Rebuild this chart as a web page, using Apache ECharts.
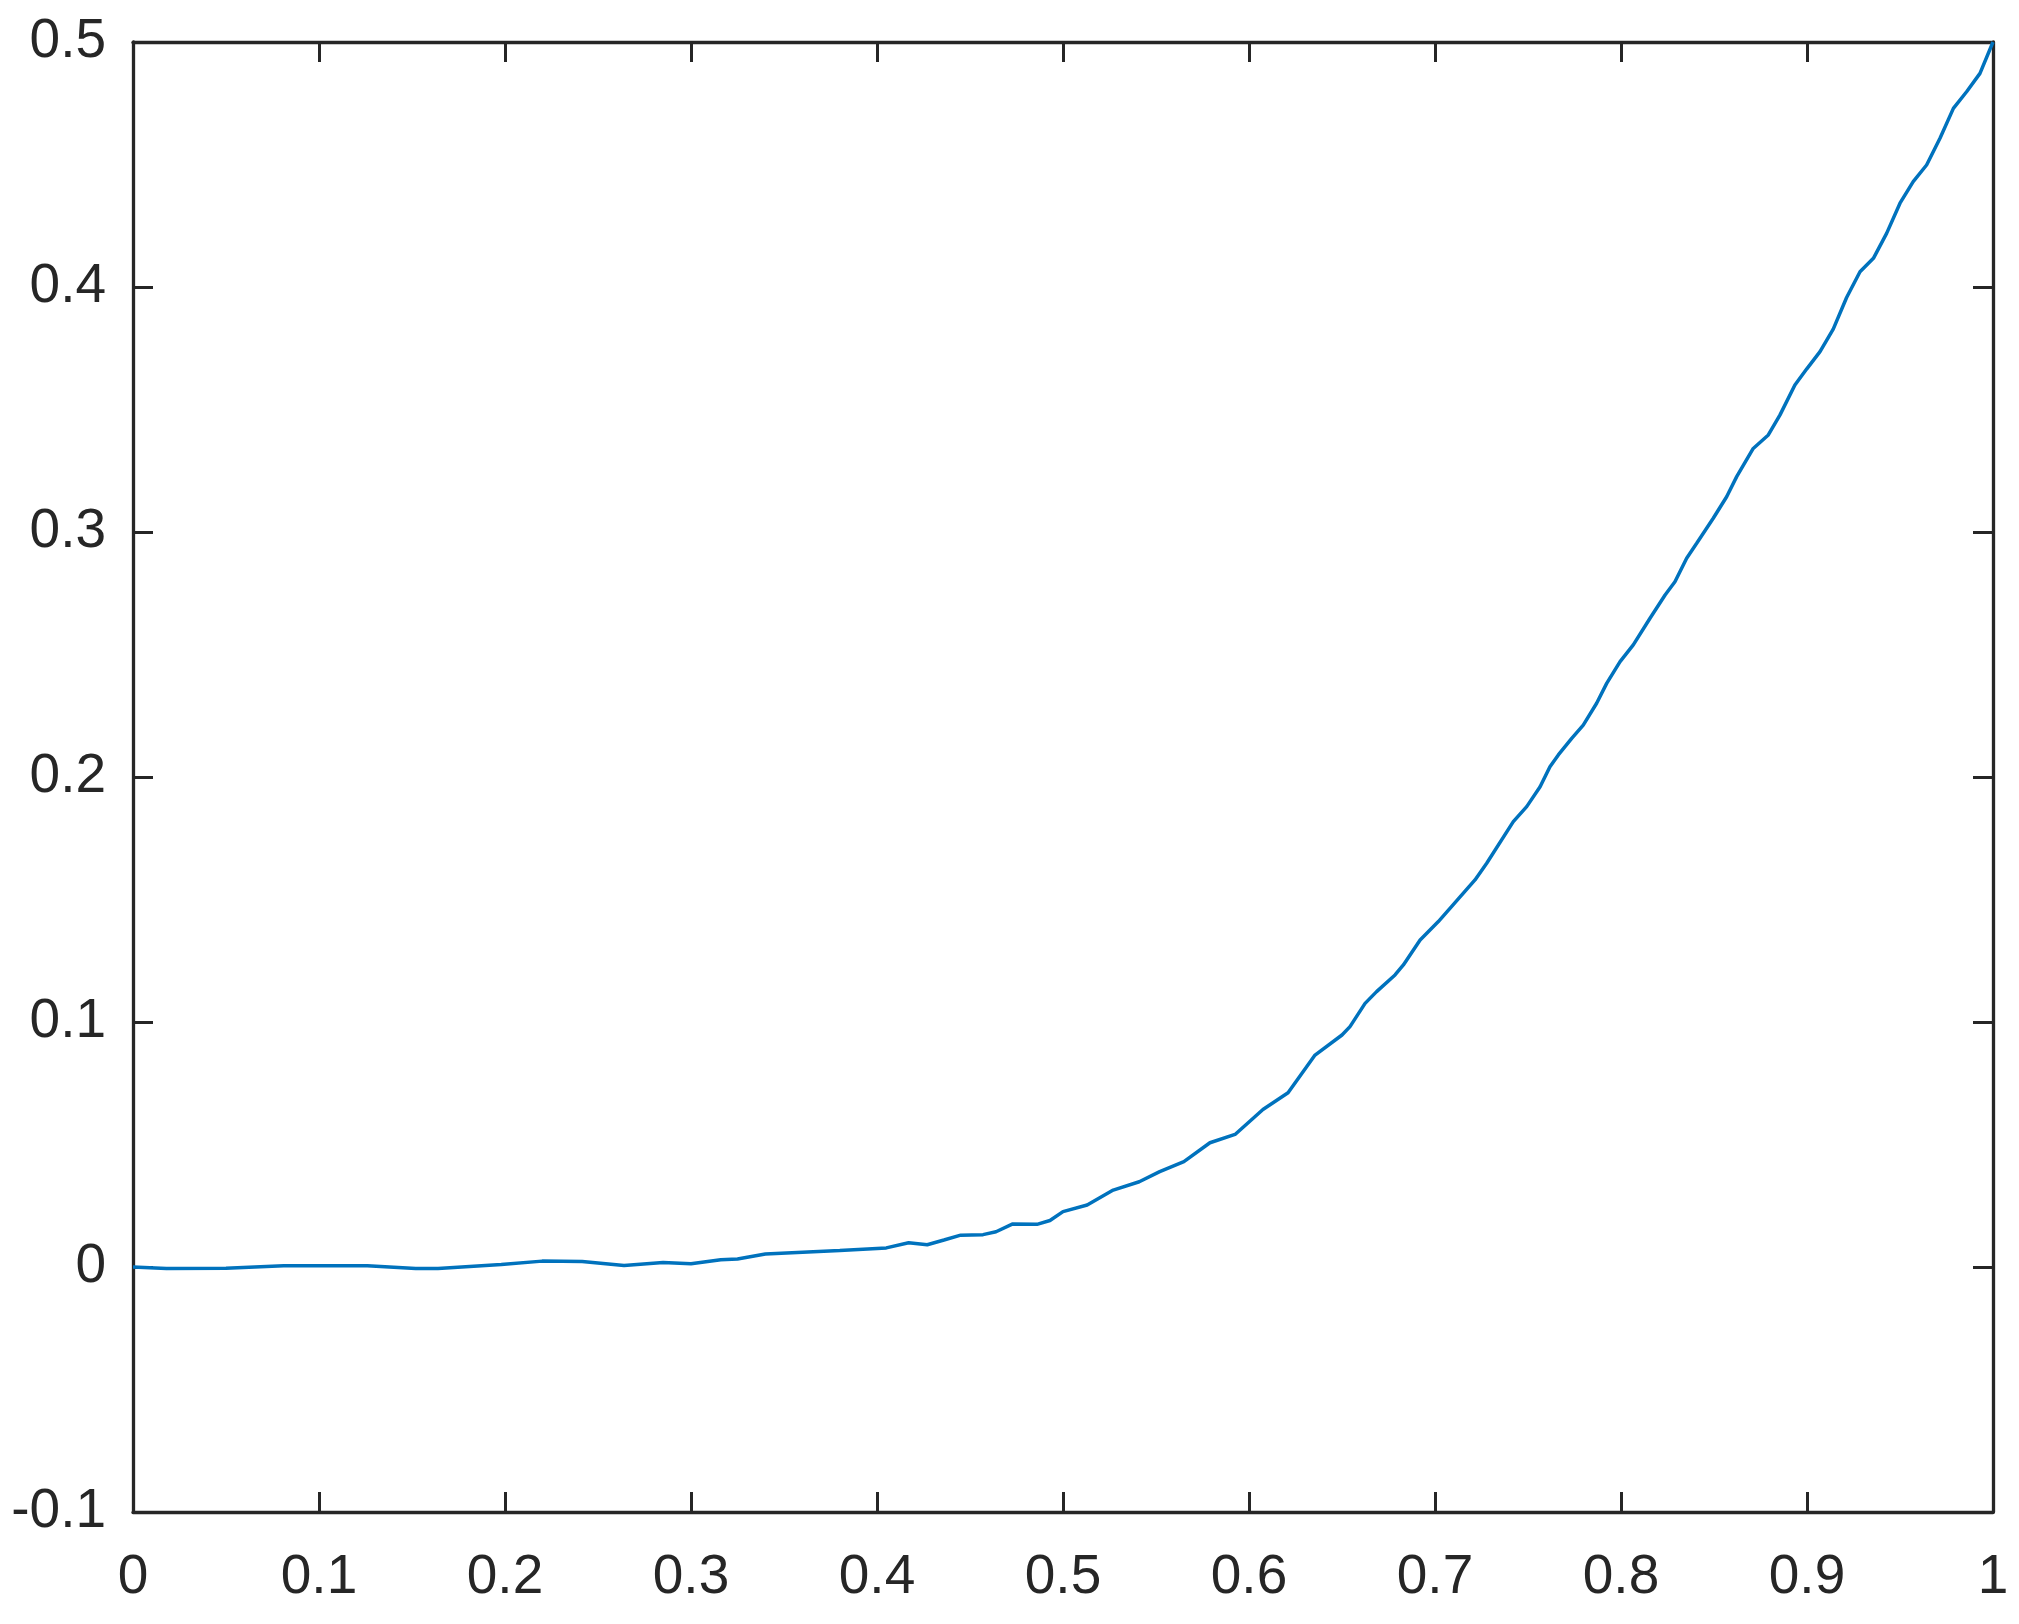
<!DOCTYPE html>
<html>
<head>
<meta charset="utf-8">
<script src="https://cdn.jsdelivr.net/npm/echarts@6/dist/echarts.min.js"></script>
<style>
  html, body { margin: 0; padding: 0; background: #fff; }
  #chart { width: 2019px; height: 1624px; }
</style>
</head>
<body>
<div id="chart"></div>
<script>
// curve
const xValues = [
  0, 0.018, 0.05, 0.081, 0.126, 0.152, 0.164, 0.198, 0.22, 0.2415,
  0.264, 0.285, 0.30, 0.316, 0.325, 0.34, 0.38, 0.405, 0.417, 0.427,
  0.436, 0.445, 0.457, 0.464, 0.473, 0.486, 0.493, 0.500, 0.513, 0.527,
  0.541, 0.552, 0.565, 0.579, 0.5925, 0.6075, 0.621, 0.6355, 0.650, 0.6543,
  0.6624, 0.6686, 0.6785, 0.683, 0.692, 0.7018, 0.7143, 0.7215, 0.7278, 0.7421,
  0.7493, 0.7565, 0.7618, 0.7663, 0.7735, 0.7797, 0.7869, 0.7923, 0.7995, 0.8066,
  0.8156, 0.8237, 0.8290, 0.8353, 0.8407, 0.8496, 0.8568, 0.8622, 0.8711, 0.8792,
  0.8855, 0.8935, 0.8998, 0.9070, 0.9141, 0.9213, 0.9285, 0.9357, 0.9428, 0.9500,
  0.9571, 0.9643, 0.9715, 0.9787, 0.9858, 0.9930, 1.0
]
const yValues = [
  0, -0.0006, -0.0005, 0.0005, 0.0005, -0.0006, -0.0006, 0.001, 0.0024, 0.0022,
  0.0006, 0.0018, 0.0013, 0.003, 0.0033, 0.0053, 0.0067, 0.0078, 0.0099, 0.0091,
  0.011, 0.013, 0.0132, 0.0144, 0.0176, 0.0174, 0.019, 0.0226, 0.0253, 0.0314,
  0.0348, 0.0389, 0.043, 0.0507, 0.0541, 0.0643, 0.0711, 0.0865, 0.0947, 0.0981,
  0.1076, 0.1124, 0.1192, 0.1233, 0.1335, 0.1410, 0.1518, 0.1580, 0.1648, 0.1818,
  0.1879, 0.1960, 0.2042, 0.2090, 0.2158, 0.2212, 0.2301, 0.2382, 0.2471, 0.2539,
  0.2648, 0.2743, 0.2797, 0.2893, 0.2954, 0.3056, 0.3144, 0.3226, 0.3341, 0.3396,
  0.3478, 0.3600, 0.3665, 0.3736, 0.3828, 0.3957, 0.4062, 0.4117, 0.4219, 0.4342,
  0.4430, 0.4498, 0.4607, 0.4729, 0.4797, 0.4872, 0.5
]
const xMin = 0, xMax = 1, xStep = 0.1
const yMin = -0.1, yMax = 0.5, yStep = 0.1

const axisColor = '#262626'
const lineColor = '#0072BD'

const chart = echarts.init(document.getElementById('chart'))

function fmt(v) {
  return String(+v.toFixed(1))
}

function makeAxis(extra) {
  return Object.assign({
    type: 'value',
    splitLine: { show: false },
    axisLine: { show: true, onZero: false, lineStyle: { color: axisColor, width: 3.3 } },
    axisTick: { show: true, inside: true, length: 20, lineStyle: { color: axisColor, width: 3 } },
    axisLabel: {
      show: true,
      formatter: fmt,
      color: axisColor,
      fontFamily: 'Liberation Sans, Arial, sans-serif',
      fontSize: 55
    }
  }, extra)
}

const option = {
  animation: false,
  backgroundColor: '#fff',
  grid: { left: 133, right: 26, top: 42, bottom: 112, containLabel: false },
  xAxis: [
    makeAxis({ position: 'bottom', min: xMin, max: xMax, interval: xStep }),
    makeAxis({ position: 'top', min: xMin, max: xMax, interval: xStep, axisLabel: { show: false } })
  ],
  yAxis: [
    makeAxis({ position: 'left', min: yMin, max: yMax, interval: yStep }),
    makeAxis({ position: 'right', min: yMin, max: yMax, interval: yStep, axisLabel: { show: false } })
  ],
  series: [
    {
      type: 'line',
      xAxisIndex: 0,
      yAxisIndex: 0,
      data: xValues.map((x, i) => [x, yValues[i]]),
      showSymbol: false,
      smooth: false,
      lineStyle: { color: lineColor, width: 3.5 },
      itemStyle: { color: lineColor }
    }
  ]
}

option.xAxis[0].axisLabel.margin = 38
option.yAxis[0].axisLabel.margin = 27

chart.setOption(option)
</script>
</body>
</html>
